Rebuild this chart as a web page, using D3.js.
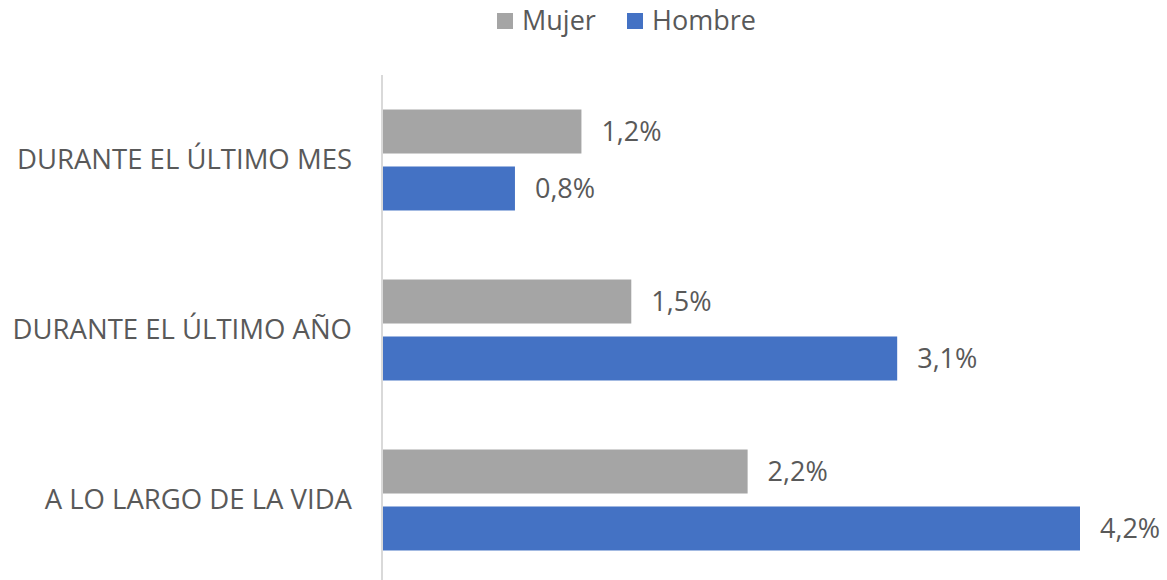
<!DOCTYPE html>
<html>
<head>
<meta charset="utf-8">
<script src="https://cdn.jsdelivr.net/npm/d3@7"></script>
<style>
  body { margin: 0; background: #fff; }
  text { font-family: "Open Sans", "Noto Sans", sans-serif; fill: #595959; }
</style>
</head>
<body>
<svg></svg>
<script>
var width = 1167, height = 580;

var categories = ["DURANTE EL ÚLTIMO MES", "DURANTE EL ÚLTIMO AÑO", "A LO LARGO DE LA VIDA"];
var series = ["Mujer", "Hombre"];
var mujer = [1.2, 1.5, 2.2];
var hombre = [0.8, 3.1, 4.2];
var colors = {"Mujer": "#A5A5A5", "Hombre": "#4472C4"};

var rows = [];
categories.forEach(function(c, i) {
  rows.push({cat: c, s: "Mujer", v: mujer[i]});
  rows.push({cat: c, s: "Hombre", v: hombre[i]});
});

var xScale = d3.scaleLinear()
               .domain([0, d3.max(mujer.concat(hombre))])
               .range([382, 1080]);

var yScale = d3.scaleBand()
               .domain(categories)
               .range([75, 585])
               .paddingInner(0.406)
               .paddingOuter(0.203);

var subScale = d3.scaleBand()
                 .domain(series)
                 .range([0, yScale.bandwidth()])
                 .paddingInner(0.228);

var fmt = function(v) { return d3.format(".1f")(v).replace(".", ",") + "%"; };

var svg = d3.select("svg")
            .attr("width", width)
            .attr("height", height);

svg.selectAll("rect.bar")
   .data(rows)
   .enter()
   .append("rect")
   .attr("class", "bar")
   .attr("x", xScale(0))
   .attr("y", d => yScale(d.cat) + subScale(d.s))
   .attr("width", d => xScale(d.v) - xScale(0))
   .attr("height", subScale.bandwidth())
   .attr("fill", d => colors[d.s]);

svg.selectAll("text.val")
   .data(rows)
   .enter()
   .append("text")
   .attr("class", "val")
   .attr("x", d => xScale(d.v) + 20)
   .attr("y", d => yScale(d.cat) + subScale(d.s) + subScale.bandwidth() / 2)
   .attr("dy", "0.35em")
   .style("font-size", "27px")
   .text(d => fmt(d.v));

// category axis
svg.append("line")
   .attr("x1", xScale(0)).attr("x2", xScale(0))
   .attr("y1", 75).attr("y2", 580)
   .attr("stroke", "#d9d9d9")
   .attr("stroke-width", 2);

svg.selectAll("text.cat")
   .data(categories)
   .enter()
   .append("text")
   .attr("class", "cat")
   .attr("x", 352)
   .attr("y", d => yScale(d) + yScale.bandwidth() / 2)
   .attr("dy", "0.33em")
   .attr("text-anchor", "end")
   .style("font-size", "27.5px")
   .text(d => d);

// legend
var legX = [497, 627];
var leg = svg.selectAll("g.leg")
             .data(series)
             .enter()
             .append("g")
             .attr("class", "leg")
             .attr("transform", (d, i) => "translate(" + legX[i] + ",13)");
leg.append("rect")
   .attr("width", 16).attr("height", 16)
   .attr("fill", d => colors[d]);
leg.append("text")
   .attr("x", 25).attr("y", 8)
   .attr("dy", "0.35em")
   .style("font-size", "27px")
   .text(d => d);
</script>
</body>
</html>
